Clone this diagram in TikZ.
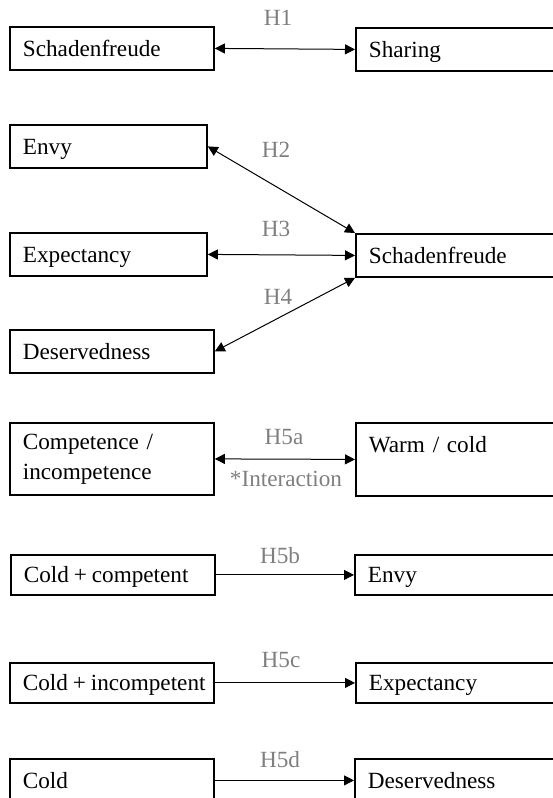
\documentclass[tikz,border=0pt]{standalone}
\usepackage{fontspec}
\setmainfont{Liberation Serif}
\usepackage{xcolor}
\usetikzlibrary{arrows.meta,positioning}
\definecolor{hypgray}{HTML}{7F7F7F}

\begin{document}
\begin{tikzpicture}[
  x=0.5pt,y=-0.5pt,
  font=\fontsize{11.6}{15}\selectfont,
  box/.style={draw=black,line width=0.9pt,anchor=north west,align=left,
              inner xsep=6.5pt,inner ysep=0pt,minimum height=21.5pt,text width=89pt},
  onebox/.style={box,text height=10.5pt,text depth=2.5pt},
  nbox/.style={onebox,text width=85.5pt},
  rbox/.style={onebox,text width=100pt},
  tight/.style={onebox,minimum height=20pt,execute at begin node={\spaceskip=0.21em\relax}},
  hyp/.style={text=hypgray,inner sep=1pt},
  ar/.style={-{Triangle[length=5pt,width=5pt]},line width=0.5pt},
  biar/.style={{Triangle[length=5pt,width=5pt]}-{Triangle[length=5pt,width=5pt]},line width=0.5pt}
]
\useasboundingbox (0,0) rectangle (552,798);

% H1
\node[onebox] (schadL)  at (9,26)   {Schadenfreude};
\node[rbox]   (sharing) at (355,27) {Sharing};
\draw[biar] (schadL.east) -- (sharing.west);
\node[hyp] (h1) at (278,18) {H1};

% H2--H4
\node[nbox]   (envy)   at (9,124)  {Envy};
\node[nbox]   (expect) at (9,232)  {Expectancy};
\node[onebox] (deserv) at (9,329)  {Deservedness};
\node[rbox]   (schadR) at (355,233) {Schadenfreude};
\draw[biar] (envy.east)   -- (schadR.north west);
\draw[biar] (expect.east) -- (schadR.west);
\draw[biar] (deserv.east) -- (schadR.south west);
\node[hyp] (h2) at (276,150) {H2};
\node[hyp] (h3) at (276,229) {H3};
\node[hyp] (h4) at (278,297) {H4};

% H5a
\node[box,minimum height=36pt] (comp) at (9,422) {Competence /\\ incompetence};
\node[rbox,minimum height=36.5pt,text height=8pt,text depth=15pt]
  (warm) at (355,422) {Warm / cold};
\draw[biar] (comp.east) -- (warm.west);
\node[hyp] (h5a)   at (284,437) {H5a};
\node[hyp] (inter) at (286,479) {*Interaction};

% H5b--H5d
\node[tight]                    (coldcomp) at (10,554)  {Cold + competent};
\node[rbox,minimum height=20pt] (envyR)    at (354,554) {Envy};
\draw[ar] (coldcomp.east) -- (envyR.west);
\node[hyp] (h5b) at (280,556) {H5b};

\node[tight]                    (coldinc) at (9,662)   {\mbox{Cold + incompetent}};
\node[rbox,minimum height=20pt] (expectR) at (355,662) {Expectancy};
\draw[ar] (coldinc.east) -- (expectR.west);
\node[hyp] (h5c) at (281,660) {H5c};

\node[onebox] (cold)    at (9,758)   {Cold};
\node[rbox]   (deservR) at (354,758) {Deservedness};
\draw[ar] (cold.east) -- (deservR.west);
\node[hyp] (h5d) at (280,760) {H5d};
\end{tikzpicture}
\end{document}
